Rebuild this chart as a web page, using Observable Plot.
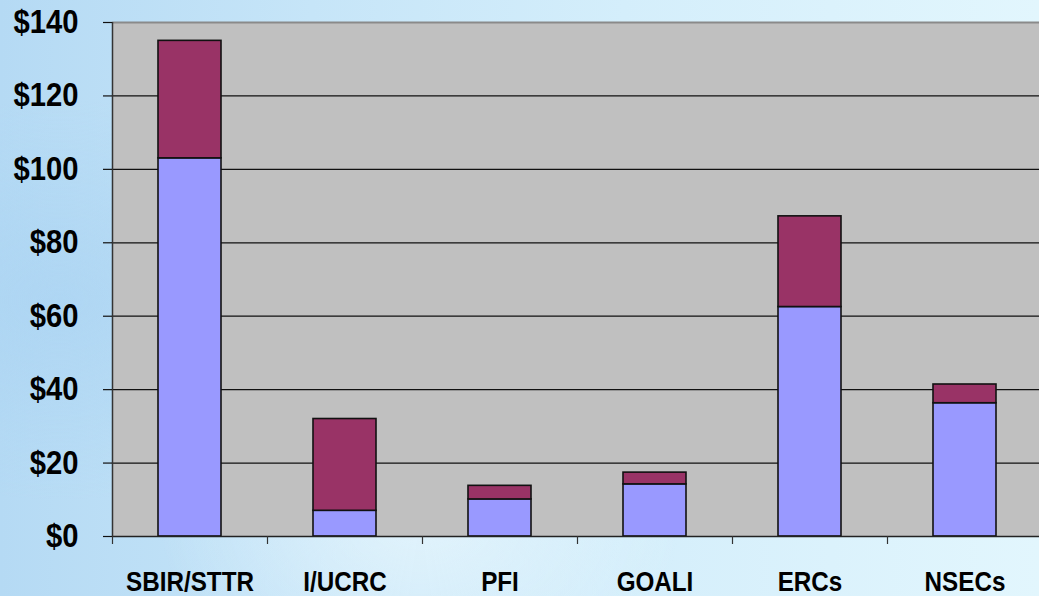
<!DOCTYPE html>
<html>
<head>
<meta charset="utf-8">
<script src="https://cdn.jsdelivr.net/npm/d3@7"></script>
<script src="https://cdn.jsdelivr.net/npm/@observablehq/plot@0.6"></script>
<style>
  html, body { margin: 0; padding: 0; width: 1039px; height: 596px; overflow: hidden; }
  body {
    background:
      radial-gradient(ellipse 260px 180px at 420px 520px, rgba(235,248,253,0.7), rgba(235,248,253,0)),
      radial-gradient(ellipse 300px 200px at 60px 300px, rgba(168,210,242,0.6), rgba(168,210,242,0)),
      linear-gradient(to right, #b5daf4 0%, #c6e5f8 30%, #d4eefb 60%, #e2f6fd 100%);
  }
  #chart { position: absolute; left: 0; top: 0; }
</style>
</head>
<body>
<div id="chart"></div>
<script>
const categories = ["SBIR/STTR", "I/UCRC", "PFI", "GOALI", "ERCs", "NSECs"];
const seriesNames = ["lower", "upper"];
const lowerValues = [103, 7, 10.1, 14.2, 62.5, 36.3];
const upperValues = [32, 25, 3.7, 3.2, 24.7, 5.1];
const yTicks = [0, 20, 40, 60, 80, 100, 120, 140];
const gridValues = [20, 40, 60, 80, 100, 120];
const seriesColors = ["#9999ff", "#993366"];

const rows = [];
categories.forEach((c, i) => {
  rows.push({category: c, series: seriesNames[0], value: lowerValues[i]});
  rows.push({category: c, series: seriesNames[1], value: upperValues[i]});
});

const W = 1045, H = 596;
const mL = 112, mR = 3, mT = 22, mB = 60;
const step = (W - mL - mR) / categories.length;
const font = "'Liberation Sans', Arial, sans-serif";

const chart = Plot.plot({
  width: W,
  height: H,
  marginLeft: mL,
  marginRight: mR,
  marginTop: mT,
  marginBottom: mB,
  style: {background: "transparent", color: "black", fontFamily: font, overflow: "visible", maxWidth: "none"},
  x: {domain: categories, paddingInner: 0.594, paddingOuter: 0.297, axis: null, label: null},
  y: {domain: [0, 140], axis: null, label: null},
  color: {domain: seriesNames, range: seriesColors},
  marks: [
    Plot.frame({fill: "#c0c0c0", stroke: null}),
    Plot.ruleY(gridValues, {stroke: "#111", strokeWidth: 1.2}),
    Plot.ruleY([140], {stroke: "#8a8a8a", strokeWidth: 2}),
    Plot.barY(rows, {x: "category", y: "value", fill: "series", stroke: "#111", strokeWidth: 1.6}),
    Plot.ruleY([0], {stroke: "#222", strokeWidth: 1.5}),
    Plot.ruleX([categories[0]], {x: d => d, dx: -step / 2, stroke: "#333", strokeWidth: 1.5}),
    Plot.ruleX(categories, {x: d => d, y1: 0, y2: 0, insetBottom: -8, dx: -step / 2, stroke: "#333", strokeWidth: 1.2}),
    Plot.axisY({ticks: yTicks, tickSize: 9, tickPadding: 25, tickFormat: d => "$" + d, label: null,
      fontSize: 33, fontWeight: "bold", fontFamily: font, stroke: "#111", strokeWidth: 1.2}),
    Plot.axisX({tickSize: 0, tickPadding: 35, label: null, fontSize: 28, fontWeight: "bold", fontFamily: font})
  ]
});
chart.style.maxWidth = "none";
chart.style.width = W + "px";
chart.style.height = H + "px";
document.getElementById("chart").appendChild(chart);

// enforce sizes and horizontally condense axis labels like the narrow bold face of the original
function condense(selector, size, factor) {
  chart.querySelectorAll(selector).forEach(g => {
    g.setAttribute("font-size", size);
    g.style.fontSize = size + "px";
    g.setAttribute("font-weight", "bold");
    g.querySelectorAll("text").forEach(t => {
      t.style.fontSize = size + "px";
      t.style.fontWeight = "bold";
      const w = t.getComputedTextLength();
      t.setAttribute("textLength", w * factor);
      t.setAttribute("lengthAdjust", "spacingAndGlyphs");
    });
  });
}
condense('[aria-label="y-axis tick label"]', 33, 0.885);
condense('[aria-label="x-axis tick label"]', 28, 0.865);
</script>
</body>
</html>
